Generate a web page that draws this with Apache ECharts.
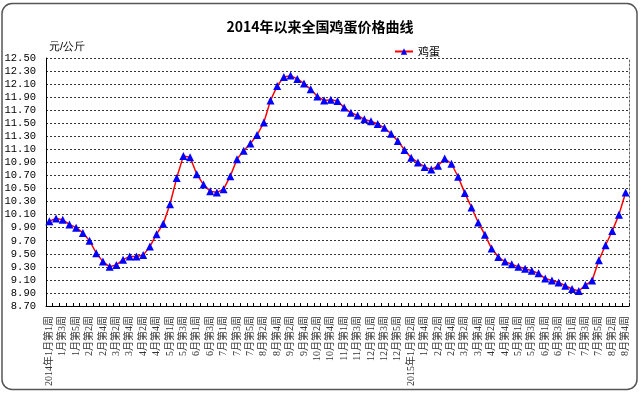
<!DOCTYPE html>
<html>
<head>
<meta charset="utf-8">
<script src="https://cdn.jsdelivr.net/npm/echarts@6/dist/echarts.min.js"></script>
<style>
html,body{margin:0;padding:0;background:#fff;}
#c{width:640px;height:394px;}
</style>
</head>
<body>
<div id="c"></div>
<script>
const categories = [
 "2014年1月第1周","1月第2周","1月第3周","1月第4周","1月第5周",
 "2月第1周","2月第2周","2月第3周","2月第4周",
 "3月第1周","3月第2周","3月第3周","3月第4周",
 "4月第1周","4月第2周","4月第3周","4月第4周","4月第5周",
 "5月第1周","5月第2周","5月第3周","5月第4周",
 "6月第1周","6月第2周","6月第3周","6月第4周",
 "7月第1周","7月第2周","7月第3周","7月第4周","7月第5周",
 "8月第1周","8月第2周","8月第3周","8月第4周",
 "9月第1周","9月第2周","9月第3周","9月第4周",
 "10月第1周","10月第2周","10月第3周","10月第4周","10月第5周",
 "11月第1周","11月第2周","11月第3周","11月第4周",
 "12月第1周","12月第2周","12月第3周","12月第4周","12月第5周",
 "1月第1周","2015年1月第2周","1月第3周","1月第4周",
 "2月第1周","2月第2周","2月第3周","2月第4周",
 "3月第1周","3月第2周","3月第3周","3月第4周",
 "4月第1周","4月第2周","4月第3周","4月第4周","4月第5周",
 "5月第1周","5月第2周","5月第3周","5月第4周",
 "6月第1周","6月第2周","6月第3周","6月第4周",
 "7月第1周","7月第2周","7月第3周","7月第4周","7月第5周",
 "8月第1周","8月第2周","8月第3周","8月第4周"
];
const eggPrices = [
 10.00,10.04,10.02,9.95,9.90,9.82,9.70,9.51,9.38,9.30,
 9.33,9.41,9.46,9.46,9.48,9.61,9.80,9.96,10.26,10.66,
 11.00,10.98,10.72,10.56,10.46,10.44,10.49,10.69,10.95,11.08,
 11.19,11.32,11.51,11.85,12.07,12.21,12.23,12.18,12.11,12.02,
 11.91,11.85,11.86,11.84,11.74,11.66,11.62,11.56,11.53,11.49,
 11.43,11.34,11.23,11.09,10.97,10.90,10.83,10.79,10.85,10.96,
 10.88,10.68,10.43,10.21,9.98,9.79,9.58,9.45,9.38,9.34,
 9.30,9.27,9.24,9.20,9.12,9.09,9.06,9.01,8.96,8.93,
 9.02,9.09,9.40,9.63,9.85,10.10,10.44
];
const yMin = 8.7, yMax = 12.5, yStep = 0.2;
const seriesName = "鸡蛋";
const titleText = "2014年以来全国鸡蛋价格曲线";
const unitText = "元/公斤";

const chart = echarts.init(document.getElementById('c'), null, {renderer:'canvas'});
chart.setOption({
  backgroundColor:'#fff',
  animation:false,
  title:{
    text:titleText, left:'center', top:15,
    textStyle:{fontSize:14, fontWeight:'bold', color:'#000', fontFamily:'"Noto Sans CJK SC"'}
  },
  legend:{
    data:[seriesName], left:389, top:41,
    itemWidth:18, itemHeight:8, itemGap:4,
    textStyle:{fontSize:11, color:'#000', fontFamily:'"Noto Sans CJK SC"'}
  },
  graphic:[
    {type:'rect', shape:{x:2, y:3.5, width:635, height:386, r:10},
     style:{fill:'none', stroke:'#555', lineWidth:1.5}, silent:true, z:-1},
    {type:'text', left:49, top:41,
     style:{text:unitText, fontSize:11, fill:'#000', font:'11px "Noto Sans CJK SC"'}}
  ],
  grid:{left:46, right:11, top:58, bottom:88, containLabel:false},
  xAxis:{
    type:'category', data:categories, boundaryGap:true,
    axisLine:{lineStyle:{color:'#000', width:1}},
    axisTick:{show:true, inside:true, length:3, interval:0, lineStyle:{color:'#000'}},
    axisLabel:{interval:1, rotate:90, fontSize:10, margin:10, color:'#333',
      fontFamily:'"Liberation Serif","Noto Sans CJK SC"'},
    splitLine:{show:false}
  },
  yAxis:[{
    type:'value', min:yMin, max:yMax, interval:yStep,
    axisLine:{show:true, lineStyle:{color:'#000', width:1}},
    axisTick:{show:false},
    axisLabel:{fontSize:10.5, color:'#000', margin:10,
      fontFamily:'"Liberation Mono"',
      formatter:function(v){return v.toFixed(2);}},
    splitLine:{show:true, lineStyle:{type:[2,2], color:'#333', width:1}}
  },{
    type:'value', min:yMin, max:yMax, interval:yStep, position:'right',
    axisLine:{show:true, lineStyle:{type:[2,2], color:'#666', width:1}},
    axisTick:{show:false}, axisLabel:{show:false}, splitLine:{show:false}
  }],
  series:[{
    name:seriesName, type:'line', data:eggPrices,
    symbol:'triangle', symbolSize:8, showAllSymbol:true,
    lineStyle:{color:'#FF0000', width:1.5},
    itemStyle:{color:'#0000FF'},
    smooth:false
  }]
});
</script>
</body>
</html>
